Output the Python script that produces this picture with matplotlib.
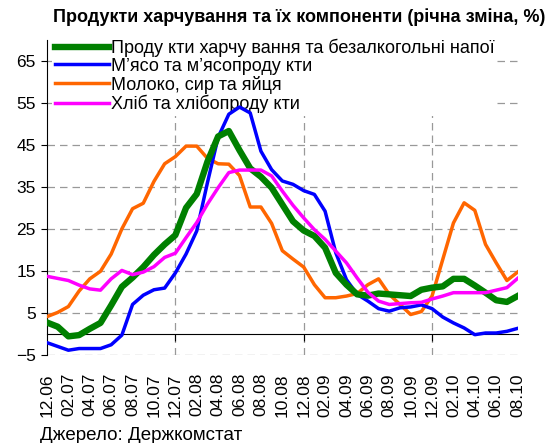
import matplotlib
matplotlib.use("Agg")
import matplotlib.pyplot as plt
import matplotlib.transforms as mtransforms

plt.rcParams['font.family'] = ['Liberation Sans', 'DejaVu Sans']

# months 12.06 .. 08.10
months = ['12.06', '01.07', '02.07', '03.07', '04.07', '05.07', '06.07', '07.07', '08.07',
          '09.07', '10.07', '11.07', '12.07', '01.08', '02.08', '03.08', '04.08', '05.08',
          '06.08', '07.08', '08.08', '09.08', '10.08', '11.08', '12.08', '01.09', '02.09',
          '03.09', '04.09', '05.09', '06.09', '07.09', '08.09', '09.09', '10.09', '11.09',
          '12.09', '01.10', '02.10', '03.10', '04.10', '05.10', '06.10', '07.10', '08.10']

food = [2.7, 1.7, -0.6, -0.3, 1.2, 2.6, 6.8, 11.2, 13.4, 15.9, 18.8, 21.3, 23.5, 30.0, 33.3,
        41.0, 47.0, 48.3, 43.7, 39.4, 37.4, 34.8, 30.8, 26.8, 24.6, 23.3, 20.5, 14.5, 11.7,
        9.4, 9.1, 9.6, 9.4, 9.2, 9.0, 10.5, 11.0, 11.3, 13.1, 13.1, 11.5, 9.8, 8.0, 7.6, 9.0]
meat = [-2.1, -3.0, -3.9, -3.5, -3.5, -3.5, -2.6, -0.3, 7.0, 9.2, 10.5, 10.9, 14.5, 19.0, 24.5,
        36.0, 46.8, 52.3, 54.0, 52.6, 43.5, 39.1, 36.4, 35.6, 34.1, 33.2, 29.2, 19.3, 12.9,
        9.4, 7.8, 6.0, 5.4, 6.2, 6.4, 6.9, 6.0, 4.0, 2.6, 1.4, -0.2, 0.2, 0.2, 0.6, 1.3]
dairy = [4.1, 5.1, 6.5, 10.2, 13.1, 14.9, 19.0, 25.0, 29.8, 31.1, 36.3, 40.5, 42.2, 44.7, 44.7,
         41.8, 40.5, 40.4, 37.7, 30.2, 30.2, 26.3, 19.8, 17.8, 15.9, 11.7, 8.6, 8.6, 9.0,
         9.6, 11.7, 13.1, 9.4, 7.0, 4.6, 5.3, 9.0, 17.7, 26.4, 31.2, 29.4, 21.3, 16.9, 12.7, 14.7]
bread = [13.7, 13.2, 12.7, 11.6, 10.7, 10.4, 13.1, 15.1, 14.1, 14.7, 16.0, 18.2, 19.2, 22.9, 26.5,
         30.9, 34.8, 38.4, 39.0, 39.0, 39.0, 37.6, 34.0, 30.6, 27.6, 24.8, 22.5, 19.7, 16.9,
         13.3, 9.9, 7.8, 7.0, 7.2, 7.4, 7.5, 8.3, 9.0, 9.8, 9.8, 9.8, 9.8, 10.4, 11.0, 13.2]

labels = ['Проду кти харчу вання та безалкогольні напої',
          'М’ясо та м’ясопроду кти',
          'Молоко, сир та яйця',
          'Хліб та хлібопроду кти']

x = list(range(len(months)))

fig = plt.figure(figsize=(5.53, 4.43), dpi=100)
ax = fig.add_axes([0.085, 0.199, 0.851, 0.711])

ax.plot(x, food, color='#008000', lw=4.6, label=labels[0], zorder=5)
ax.plot(x, meat, color='#0000FF', lw=2.5, label=labels[1], zorder=4)
ax.plot(x, dairy, color='#FF6600', lw=2.5, label=labels[2], zorder=3)
ax.plot(x, bread, color='#FF00FF', lw=2.5, label=labels[3], zorder=6)

ax.set_xlim(0, len(months) - 1)
ax.set_ylim(-5, 70)
ax.set_yticks(range(-5, 66, 10))
ax.tick_params(axis='y', direction='out', length=4, labelsize=12.5, pad=4)

# year boundaries
ax.set_xticks([12, 24, 36])
ax.set_xticklabels([])
ax.tick_params(axis='x', direction='out', length=5)
ax.spines['bottom'].set_position(('data', 0))
ax.spines['top'].set_visible(False)
ax.spines['right'].set_visible(False)

ax.grid(True, color='#999999', linestyle=(0, (6, 4)), linewidth=0.9, zorder=0.5)
ax.set_axisbelow(True)

trans = mtransforms.blended_transform_factory(ax.transData, ax.transAxes)
for i in range(0, len(months), 2):
    ax.text(i, -0.058, months[i], transform=trans, rotation=90, ha='center', va='top',
            fontsize=12.5)

leg = ax.legend(loc='upper left', bbox_to_anchor=(0.0, 1.03), fontsize=13, frameon=True,
                handlelength=3.0, handletextpad=0.1, labelspacing=0.05, borderpad=0.15,
                borderaxespad=0.3)
leg.get_frame().set_edgecolor('none')
leg.get_frame().set_facecolor('white')
leg.get_frame().set_alpha(1)
# legend box hides the grid but the data lines stay on top
leg.set_zorder(2)

fig.text(0.541, 0.962, 'Продукти харчування та їх компоненти (річна зміна, %)',
         ha='center', va='center', fontsize=13, fontweight='bold')
fig.text(0.072, 0.018, 'Джерело: Держкомстат', ha='left', va='center', fontsize=13.5)

fig.savefig('out.png', dpi=100)
